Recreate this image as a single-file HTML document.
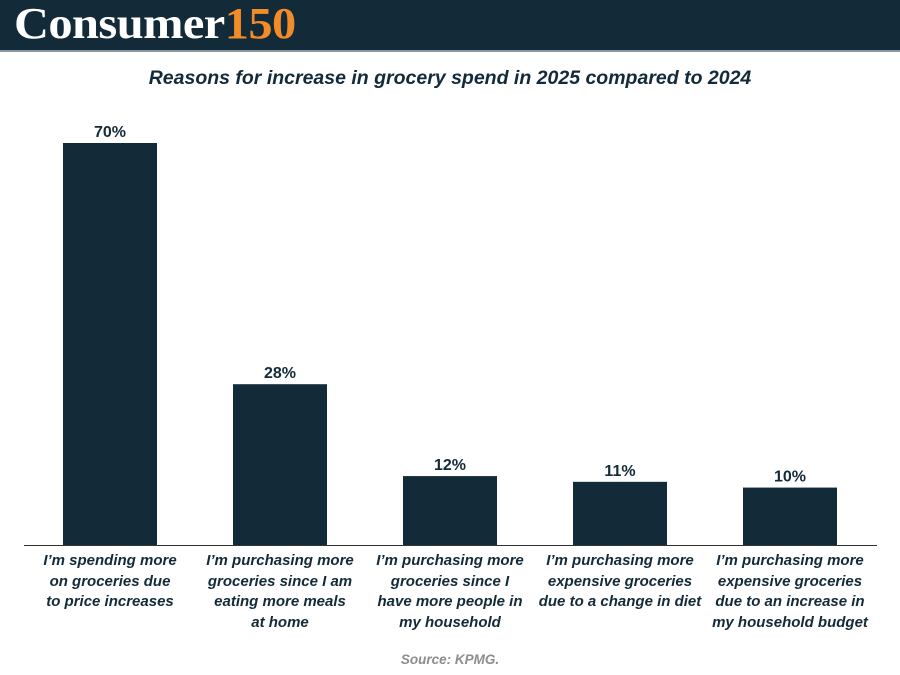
<!DOCTYPE html>
<html><head><meta charset="utf-8"><style>
body{margin:0;width:900px;height:675px;background:#fff;font-family:"Liberation Sans",sans-serif;overflow:hidden;position:relative}
#hdr{position:absolute;left:0;top:0;width:900px;height:50px;background:#132a38;border-bottom:2px solid #8a979f}
#logo{position:absolute;left:14px;top:-2px;font-family:"Liberation Serif",serif;font-weight:bold;font-size:44px;color:#fff;letter-spacing:-0.5px;transform:scaleX(1.1);transform-origin:left center;white-space:nowrap}
#logo span{color:#f28c28}
#title{position:absolute;top:67px;width:900px;text-align:center;font-weight:bold;font-style:italic;font-size:19.5px;color:#132a38}
.lab{position:absolute;width:170px;text-align:center;font-weight:bold;font-style:italic;font-size:15px;line-height:20.7px;color:#132a38;top:551px}
#src{position:absolute;top:652px;width:900px;text-align:center;font-weight:bold;font-style:italic;font-size:13.5px;color:#8d8d8d}
</style></head><body>
<div id="hdr"><div id="logo">Consumer<span>150</span></div></div>
<div id="title">Reasons for increase in grocery spend in 2025 compared to 2024</div>
<svg id="chart" width="900" height="675" style="position:absolute;left:0;top:0"></svg>
<div id="labels"></div>
<div id="src">Source: KPMG.</div>
<script>
const categories=["I’m spending more<br>on groceries due<br>to price increases","I’m purchasing more<br>groceries since I am<br>eating more meals<br>at home","I’m purchasing more<br>groceries since I<br>have more people in<br>my household","I’m purchasing more<br>expensive groceries<br>due to a change in diet","I’m purchasing more<br>expensive groceries<br>due to an increase in<br>my household budget"];
const values=[70,28,12,11,10];
const valueLabels=["70%","28%","12%","11%","10%"];
const NS="http://www.w3.org/2000/svg";
const svg=document.getElementById('chart');
const base=545, pxPer=402/70;
const y=v=>base-v*pxPer;
const xc=i=>110+i*170;
const bw=94;
values.forEach((v,i)=>{
  const r=document.createElementNS(NS,'rect');
  r.setAttribute('x',xc(i)-bw/2);r.setAttribute('y',y(v));
  r.setAttribute('width',bw);r.setAttribute('height',base-y(v));
  r.setAttribute('fill','#132a38');
  
  
  svg.appendChild(r);
  const t=document.createElementNS(NS,'text');
  t.setAttribute('x',xc(i));t.setAttribute('y',y(v)-6);
  t.setAttribute('text-anchor','middle');
  t.setAttribute('font-family','Liberation Sans, sans-serif');
  t.setAttribute('font-weight','bold');t.setAttribute('font-size','16');
  t.setAttribute('fill','#132a38');
  t.textContent=valueLabels[i];
  
  
  svg.appendChild(t);
  const d=document.createElement('div');
  d.className='lab';d.style.left=(xc(i)-85)+'px';d.innerHTML=categories[i];
  
  
  document.getElementById('labels').appendChild(d);
});
const ax=document.createElementNS(NS,'line');
ax.setAttribute('x1',24);ax.setAttribute('x2',877);ax.setAttribute('y1',base+0.5);ax.setAttribute('y2',base+0.5);
ax.setAttribute('stroke','#333');ax.setAttribute('stroke-width','1');


svg.appendChild(ax);
</script>
</body></html>
